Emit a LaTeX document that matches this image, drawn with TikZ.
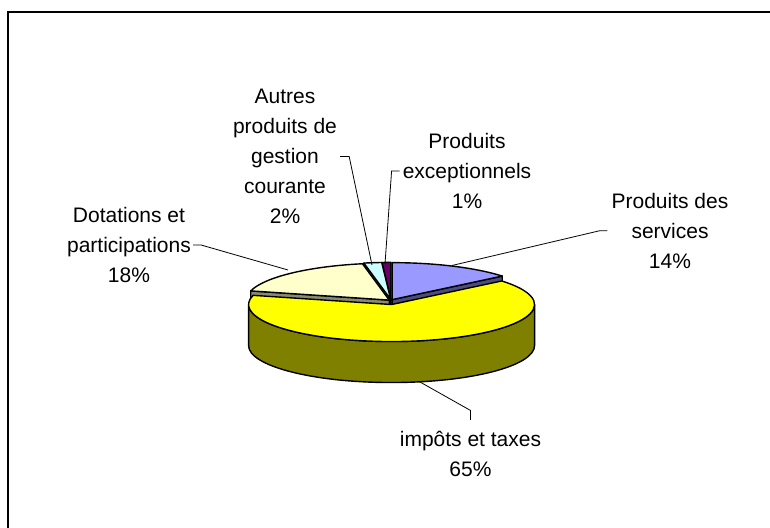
\documentclass[tikz,border=0pt]{standalone}
\usepackage{fontspec}
\setmainfont{Liberation Sans}
\usetikzlibrary{calc}
\definecolor{pblue}{HTML}{9999FF}
\definecolor{pblueside}{HTML}{4C4C80}
\definecolor{pyellow}{HTML}{FFFF00}
\definecolor{polive}{HTML}{808000}
\definecolor{pcream}{HTML}{FFFFCC}
\definecolor{pcreamside}{HTML}{8A8A72}
\definecolor{pcyan}{HTML}{CCFFFF}
\definecolor{pcyanside}{HTML}{5F8585}
\definecolor{ppurple}{HTML}{660066}
\definecolor{ppurpleside}{HTML}{330033}
\begin{document}
\begin{tikzpicture}[x=1pt,y=1pt,
  edge/.style={draw=black, line width=1.4pt, line join=round},
  ell/.style={x radius=143pt, y radius=37pt},
  lbl/.style={align=center, inner sep=0pt, font=\fontsize{21}{30}\selectfont},
  leader/.style={draw=black, line width=0.8pt}]
\useasboundingbox (0,0) rectangle (770,527);
\fill[white] (0,0) rectangle (770,527);
\draw[line width=2pt] (790,515) -- (8,515) -- (8,-10);
% pie geometry
\def\dep{41}
\coordinate (C) at (391,225);
\coordinate (Cb) at ($(C)+(64.8:2.6pt)$);
\coordinate (Cp) at ($(C)+(91.8:2.6pt)$);
\coordinate (Cc) at ($(C)+(97.2:2.6pt)$);
\coordinate (Cr) at ($(C)+(133.2:2.6pt)$);
\coordinate (Cy) at ($(C)+(282.6:2.6pt)$);
% purple
\filldraw[edge, fill=ppurpleside] (Cp) -- ($(Cp)+(93.6:143pt and 37pt)$) -- ++(0,-\dep) -- ($(Cp)+(0,-\dep)$) -- cycle;
\filldraw[edge, fill=ppurple] (Cp) -- ($(Cp)+(90:143pt and 37pt)$) arc[ell, start angle=90, end angle=93.6] -- cycle;
% cyan
\filldraw[edge, fill=pcyanside] (Cc) -- ($(Cc)+(100.8:143pt and 37pt)$) -- ++(0,-\dep) -- ($(Cc)+(0,-\dep)$) -- cycle;
\filldraw[edge, fill=pcyan] (Cc) -- ($(Cc)+(93.6:143pt and 37pt)$) arc[ell, start angle=93.6, end angle=100.8] -- cycle;
% cream
\filldraw[edge, fill=pcreamside] (Cr) -- ($(Cr)+(165.6:143pt and 37pt)$) -- ++(0,-\dep) -- ($(Cr)+(0,-\dep)$) -- cycle;
\filldraw[edge, fill=pcream] (Cr) -- ($(Cr)+(100.8:143pt and 37pt)$) arc[ell, start angle=100.8, end angle=165.6] -- cycle;
% blue
\filldraw[edge, fill=pblueside] (Cb) -- ($(Cb)+(39.6:143pt and 37pt)$) -- ++(0,-\dep) -- ($(Cb)+(0,-\dep)$) -- cycle;
\filldraw[edge, fill=pblue] (Cb) -- ($(Cb)+(39.6:143pt and 37pt)$) arc[ell, start angle=39.6, end angle=90] -- cycle;
% yellow
\filldraw[edge, fill=polive] ($(Cy)+(180:143pt and 37pt)$) arc[ell, start angle=180, end angle=360] -- ++(0,-\dep) arc[ell, start angle=360, end angle=180] -- cycle;
\filldraw[edge, fill=pyellow] (Cy) -- ($(Cy)+(165.6:143pt and 37pt)$) arc[ell, start angle=165.6, end angle=399.6] -- cycle;
% labels
\node[lbl] (aut) at (285,370.5) {Autres\\produits de\\gestion\\courante\\2\%};
\node[lbl] (exc) at (467,356) {Produits\\exceptionnels\\1\%};
\node[lbl] (ser) at (670,296.2) {Produits des\\services\\14\%};
\node[lbl] (dot) at (129,282) {Dotations et\\participations\\18\%};
\node[lbl] (imp) at (470.5,73.1) {impôts et taxes\\65\%};
% leader end points
\coordinate (autA) at (372,262);
\coordinate (excA) at (385,263);
\coordinate (serA) at (452,261.5);
\coordinate (dotA) at (288,257);
\coordinate (impA) at (420,145);
\draw[leader] ([xshift=2pt]dot.east) -- ++(8,0) -- (dotA);
\draw[leader] ([xshift=3pt]aut.east) -- ++(9,0) -- (autA);
\draw[leader] ([xshift=-3pt]exc.west) -- ++(-8,0) -- (excA);
\draw[leader] ([xshift=-4pt]ser.west) -- ++(-8,0) -- (serA);
\draw[leader] ([yshift=11pt]imp.north) -- ++(0,9.5) -- (impA);
\end{tikzpicture}
\end{document}
